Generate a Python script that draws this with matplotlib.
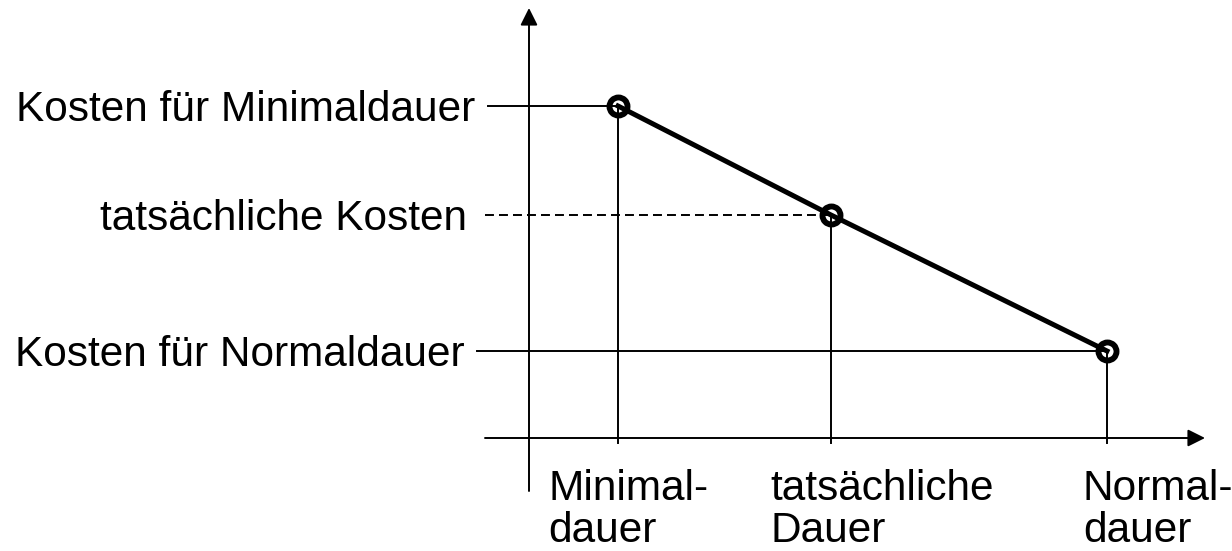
import matplotlib.pyplot as plt

plt.rcParams['font.family'] = ['Liberation Sans', 'DejaVu Sans']

# three states: (duration, cost)
durations = [0.89, 3.02, 5.78]
costs = [3.32, 2.23, 0.87]
cost_labels = ["Kosten für Minimaldauer", "tatsächliche Kosten", "Kosten für Normaldauer"]
duration_labels = ["Minimal-\ndauer", "tatsächliche\nDauer", "Normal-\ndauer"]
guide_styles = ["-", (0, (4.6, 2.6)), "-"]

# layout (data units)
guide_start = [-0.41, -0.44, -0.52]
label_gap = [0.13, 0.18, 0.12]
dur_label_x = [0.19, 2.41, 5.54]

fig = plt.figure(figsize=(12.32, 5.51), dpi=100)
ax = fig.add_axes([0, 0, 1, 1])
ax.set_xlim(-5.29, 7.03)
ax.set_ylim(-1.13, 4.38)
ax.axis("off")

arrow = dict(arrowstyle="-|>,head_length=0.4,head_width=0.2", lw=1.4, color="k",
             mutation_scale=26, shrinkA=0, shrinkB=0)
ax.annotate("", xy=(0, 4.30), xytext=(0, -0.53), arrowprops=arrow)
ax.annotate("", xy=(6.76, 0), xytext=(-0.44, 0), arrowprops=arrow)

for d, c, ls, x0, gap, lab in zip(durations, costs, guide_styles, guide_start, label_gap, cost_labels):
    ax.plot([x0, d], [c, c], color="k", lw=1.4, linestyle=ls)
    ax.plot([d, d], [c, -0.05], color="k", lw=1.4)
    ax.text(x0 - gap, c - 0.04, lab, ha="right", va="center", fontsize=30.5)

ax.plot(durations, costs, color="k", lw=3.6, marker="o", ms=13, mew=4.2,
        mfc="none", mec="k", zorder=5)

# va="baseline" pins the last line's baseline
for x, lab in zip(dur_label_x, duration_labels):
    ax.text(x, -1.04, lab, ha="left", va="baseline", fontsize=30.5, linespacing=1.07)

fig.savefig("out.png", dpi=100)
